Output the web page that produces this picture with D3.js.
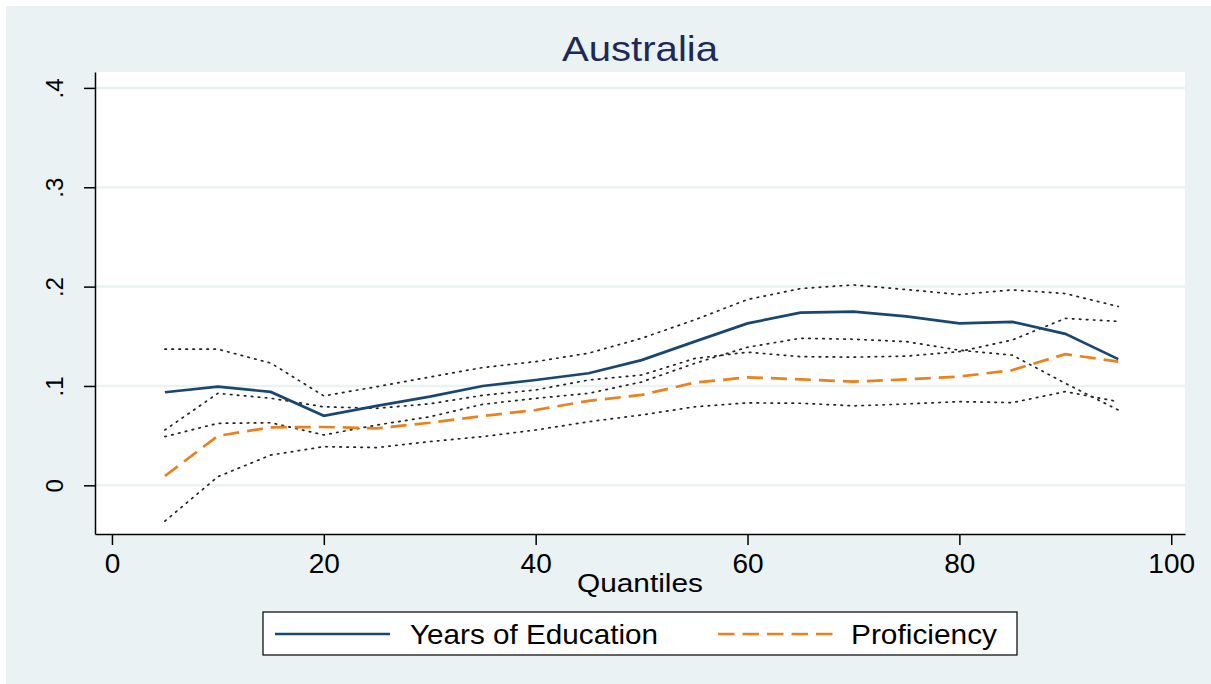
<!DOCTYPE html>
<html><head><meta charset="utf-8">
<script src="https://cdn.jsdelivr.net/npm/d3@7"></script>
<style>body{margin:0;background:#fff}svg{display:block}text{font-family:"Liberation Sans",Arial,sans-serif}</style>
</head><body><svg id="c" width="1211" height="684"></svg>
<script>
const quantiles = [5,10,15,20,25,30,35,40,45,50,55,60,65,70,75,80,85,90,95];
const eduYears  = [0.0937,0.0993,0.094,0.070,0.080,0.0892,0.100,0.106,0.1128,0.126,0.1446,0.163,0.1738,0.1748,0.170,0.163,0.1645,0.1524,0.127];
const eduUpper  = [0.137,0.137,0.123,0.090,0.0993,0.109,0.1185,0.1245,0.133,0.148,0.1665,0.187,0.198,0.2017,0.197,0.192,0.1967,0.193,0.180];
const eduLower  = [0.049,0.0624,0.063,0.0507,0.0607,0.069,0.0815,0.0875,0.0926,0.104,0.1227,0.139,0.148,0.147,0.1446,0.136,0.131,0.1027,0.0758];
const proficiency = [0.0094,0.0497,0.0584,0.0587,0.0574,0.063,0.0698,0.0758,0.085,0.091,0.1033,0.1087,0.1067,0.1043,0.1067,0.1094,0.116,0.132,0.1245];
const profUpper = [0.0557,0.0926,0.0876,0.079,0.0775,0.082,0.0906,0.096,0.106,0.111,0.1276,0.134,0.1295,0.129,0.130,0.1346,0.1463,0.168,0.165];
const profLower = [-0.036,0.0087,0.0305,0.0389,0.038,0.044,0.049,0.0557,0.064,0.0708,0.079,0.083,0.0826,0.080,0.0819,0.0842,0.0832,0.0943,0.0842];
const xTicks = [0,20,40,60,80,100];
const yTicks = [0,0.1,0.2,0.3,0.4];
const yTickLabels = ["0",".1",".2",".3",".4"];
const titleText = "Australia";
const xTitle = "Quantiles";
const legendLabels = ["Years of Education","Proficiency"];

const svg = d3.select("#c");
const L=95, R=1185, T=72, B=534;
const x = d3.scaleLinear().domain([-1.6,101.3]).range([L,R]);
const y = d3.scaleLinear().domain([-0.049,0.416]).range([B,T]);

svg.append("rect").attr("x",6).attr("y",6).attr("width",1205).attr("height",678).attr("fill","#eaf2f3");
svg.append("rect").attr("x",L).attr("y",T).attr("width",R-L).attr("height",B-T).attr("fill","#fff");

// grid
svg.append("g").selectAll("line").data(yTicks).join("line")
  .attr("x1",L).attr("x2",R).attr("y1",d=>y(d)).attr("y2",d=>y(d))
  .attr("stroke","#eaf2f3").attr("stroke-width",2.5);

// title
svg.append("text").attr("x",640).attr("y",61).attr("text-anchor","middle")
  .attr("font-size",35).attr("fill","#1e2a55")
  .attr("textLength",156).attr("lengthAdjust","spacingAndGlyphs").text(titleText);

// axes
const yAxis = d3.axisLeft(y).tickValues(yTicks).tickFormat((d,i)=>yTickLabels[i]).tickSize(11).tickSizeOuter(0);
const gy = svg.append("g").attr("transform",`translate(${L},0)`).call(yAxis);
gy.select(".domain").attr("stroke","#000").attr("stroke-width",1.5);
gy.selectAll(".tick line").attr("stroke","#000").attr("stroke-width",1.5);
gy.selectAll(".tick text").attr("font-size",24).attr("fill","#000")
  .attr("x",0).attr("y",0).attr("dy","0.35em").attr("text-anchor","middle")
  .attr("transform","translate(-40,0) rotate(-90)");

const xAxis = d3.axisBottom(x).tickValues(xTicks).tickSize(11).tickSizeOuter(0);
const gx = svg.append("g").attr("transform",`translate(0,${B})`).call(xAxis);
gx.select(".domain").attr("stroke","#000").attr("stroke-width",1.5);
gx.selectAll(".tick line").attr("stroke","#000").attr("stroke-width",1.5);
gx.selectAll(".tick text").attr("font-size",28).attr("fill","#000").attr("y",39).attr("dy",0);

svg.append("text").attr("x",640).attr("y",592).attr("text-anchor","middle")
  .attr("font-size",25).attr("fill","#000")
  .attr("textLength",126).attr("lengthAdjust","spacingAndGlyphs").text(xTitle);

const line = d3.line().x(d=>x(d[0])).y(d=>y(d[1]));
const zip = arr => quantiles.map((q,i)=>[q,arr[i]]);

[eduUpper,eduLower,profUpper,profLower].forEach(arr=>{
  svg.append("path").attr("d",line(zip(arr))).attr("fill","none")
    .attr("stroke","#222").attr("stroke-width",1.7).attr("stroke-dasharray","1.5,5.5").attr("stroke-linecap","round");
});
svg.append("path").attr("d",line(zip(proficiency))).attr("fill","none")
  .attr("stroke","#e8821e").attr("stroke-width",2.7).attr("stroke-dasharray","16,8");
svg.append("path").attr("d",line(zip(eduYears))).attr("fill","none")
  .attr("stroke","#1a476f").attr("stroke-width",2.7);

// legend
const lg = svg.append("g");
lg.append("rect").attr("x",263).attr("y",612).attr("width",754).attr("height",43)
  .attr("fill","#fff").attr("stroke","#000").attr("stroke-width",1.2);
lg.append("line").attr("x1",275).attr("x2",390).attr("y1",634).attr("y2",634)
  .attr("stroke","#1a476f").attr("stroke-width",2.7);
lg.append("text").attr("x",410).attr("y",644).attr("font-size",28).attr("fill","#000")
  .attr("textLength",248).attr("lengthAdjust","spacingAndGlyphs").text(legendLabels[0]);
lg.append("line").attr("x1",718).attr("x2",834).attr("y1",634).attr("y2",634)
  .attr("stroke","#e8821e").attr("stroke-width",2.7).attr("stroke-dasharray","16.5,8");
lg.append("text").attr("x",851).attr("y",644).attr("font-size",28).attr("fill","#000")
  .attr("textLength",146).attr("lengthAdjust","spacingAndGlyphs").text(legendLabels[1]);
</script></body></html>
